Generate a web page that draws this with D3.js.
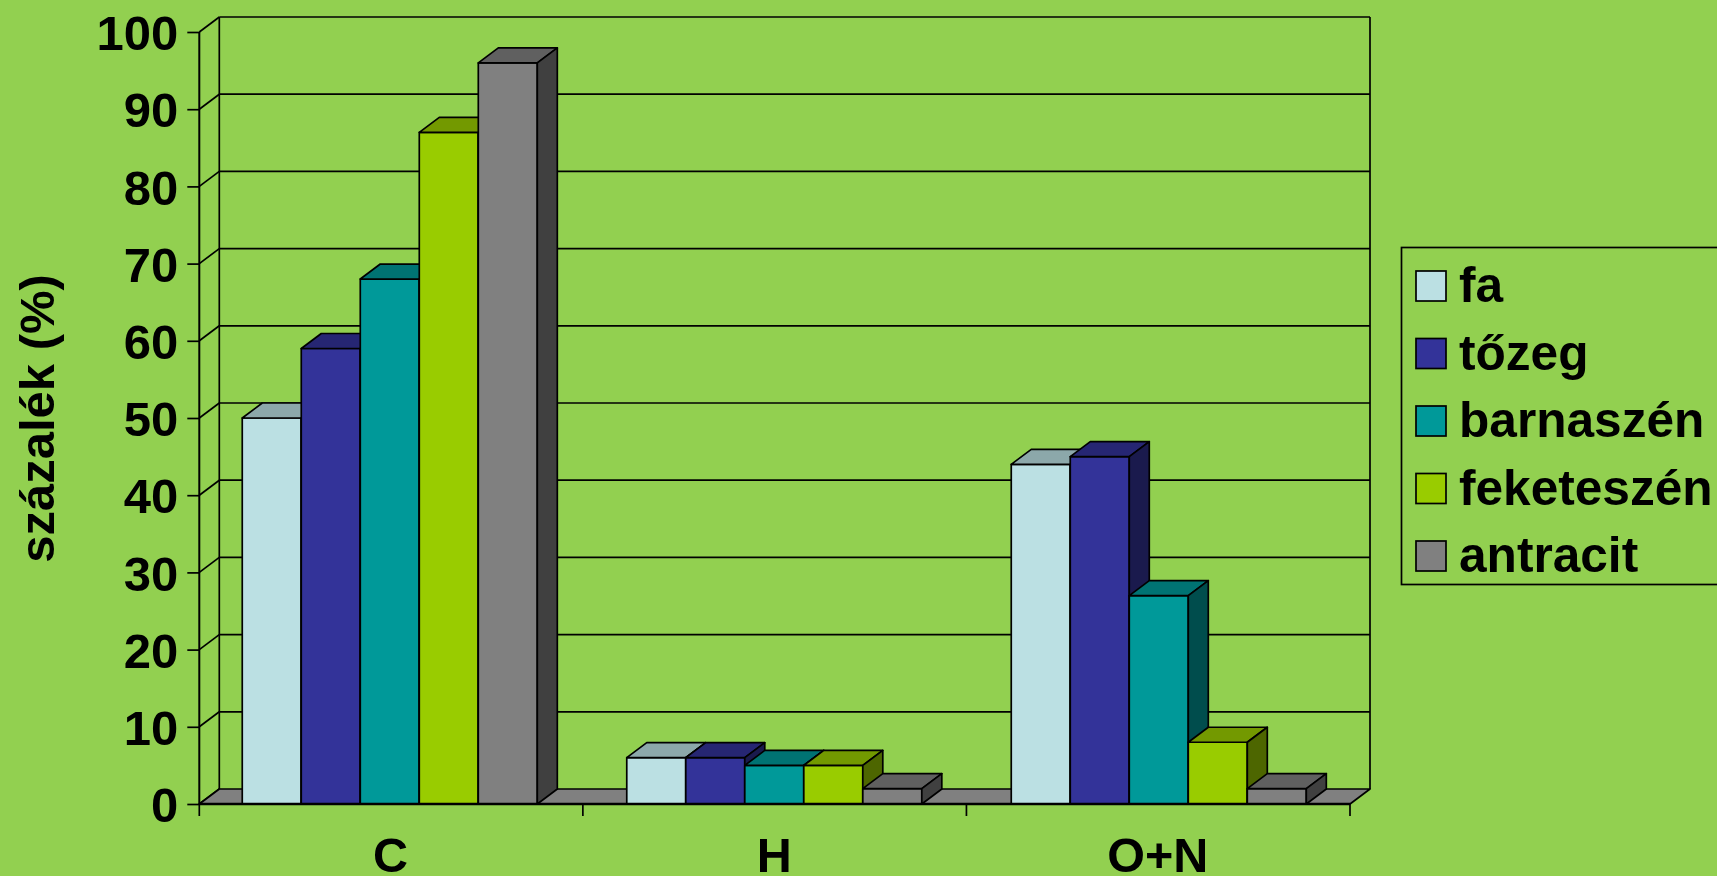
<!DOCTYPE html>
<html><head><meta charset="utf-8">
<script src="https://cdn.jsdelivr.net/npm/d3@7/dist/d3.min.js"></script>
<style>
html,body{margin:0;padding:0;background:#92D050;overflow:hidden}
svg{display:block}
text{font-family:"Liberation Sans",Arial,sans-serif;font-weight:bold;fill:#000}
</style></head><body>
<svg id="c" width="1717" height="876"></svg>
<script>
const categories = ["C","H","O+N"];
const seriesNames = ["fa","tőzeg","barnaszén","feketeszén","antracit"];
const fa = [50,6,44];
const tozeg = [59,6,45];
const barnaszen = [68,5,27];
const feketeszen = [87,5,8];
const antracit = [96,2,2];
const seriesValues = [fa,tozeg,barnaszen,feketeszen,antracit];
const yTicks = [0,10,20,30,40,50,60,70,80,90,100];
const yTitle = "százalék (%)";
const frontColors = ["#BBE0E3","#333399","#009999","#99CC00","#808080"];
const topColors = ["#8CA8AA","#262673","#007373","#739900","#606060"];
const sideColors = ["#5E7072","#1A1A4D","#004D4D","#4D6600","#404040"];

const svg = d3.select("#c");
const dx = 20, dy = -15, SW = 1.7;
const x = d3.scaleBand().domain(categories).range([199.3,1350]);
const xBars = d3.scaleBand().domain(categories).range([198,1351.5]);
const y = d3.scaleLinear().domain([0,100]).range([804,32]);
const bw = x.bandwidth()/6.5;
const sx = d3.scaleBand().domain(d3.range(5)).range([0,bw*5]);
const line = (a,b,c,d,w=SW)=>svg.append("line").attr("x1",a).attr("y1",b).attr("x2",c).attr("y2",d).attr("stroke","#000").attr("stroke-width",w);
const poly = (pts,f,w=SW)=>svg.append("polygon").attr("points",pts.map(p=>p.join(",")).join(" ")).attr("fill",f).attr("stroke","#000").attr("stroke-width",w).attr("stroke-linejoin","round");
const [x0,x1] = x.range();
const y0 = y(0), y100 = y(100);

line(x0+dx,y100+dy,x1+dx,y100+dy);
line(x0+dx,y100+dy,x0+dx,y0+dy);
line(x1+dx,y100+dy,x1+dx,y0+dy);
line(x0,y100,x0,y0,2);
yTicks.forEach(t=>{
  line(x0,y(t),x0+dx,y(t)+dy);
  if(t>0&&t<100) line(x0+dx,y(t)+dy,x1+dx,y(t)+dy);
});
poly([[x0,y0],[x0+dx,y0+dy],[x1+dx,y0+dy],[x1,y0]],"#808080");

categories.forEach((c,ci)=>{
  seriesValues.forEach((vals,si)=>{
    const l = xBars(c)+0.75*bw+sx(si), r = l+bw, t = y(vals[ci]), b = y0;
    poly([[l,b],[r,b],[r,t],[l,t]],frontColors[si]);
    poly([[l,t],[l+dx,t+dy],[r+dx,t+dy],[r,t]],topColors[si]);
    poly([[r,t],[r+dx,t+dy],[r+dx,b+dy],[r,b]],sideColors[si]);
  });
});

const ay = svg.append("g").attr("transform",`translate(${x0},0)`)
  .call(d3.axisLeft(y).tickValues(yTicks).tickSize(12).tickPadding(9).tickFormat(d3.format("d")));
ay.select(".domain").remove();
ay.selectAll("line").attr("stroke","#000").attr("stroke-width",SW);
ay.selectAll("text").attr("font-size",49).attr("dy","0.36em").style("font-family",'"Liberation Sans"').style("font-weight","bold").attr("fill","#000");

line(x0,y0,x1,y0,2.4);
const catTicks = categories.map(c=>x(c)).concat([x1]);
catTicks.forEach(t=>line(t,y0,t,816,SW));
categories.forEach(c=>{
  svg.append("text").attr("x",x(c)+x.bandwidth()/2-0.5).attr("y",872).attr("text-anchor","middle").attr("font-size",48.5).text(c);
});
svg.append("text").attr("transform","translate(54,418.5) rotate(-90)").attr("text-anchor","middle").attr("font-size",49).text(yTitle);

svg.append("rect").attr("x",1401.5).attr("y",247.5).attr("width",340).attr("height",337).attr("fill","none").attr("stroke","#000").attr("stroke-width",SW);
const ly = d3.scalePoint().domain(seriesNames).range([286,556]);
seriesNames.forEach((n,i)=>{
  svg.append("rect").attr("x",1416).attr("y",ly(n)-15).attr("width",30).attr("height",30).attr("fill",frontColors[i]).attr("stroke","#000").attr("stroke-width",SW);
  svg.append("text").attr("x",1459).attr("y",ly(n)+16).attr("font-size",49.6).text(n);
});
</script>
</body></html>
